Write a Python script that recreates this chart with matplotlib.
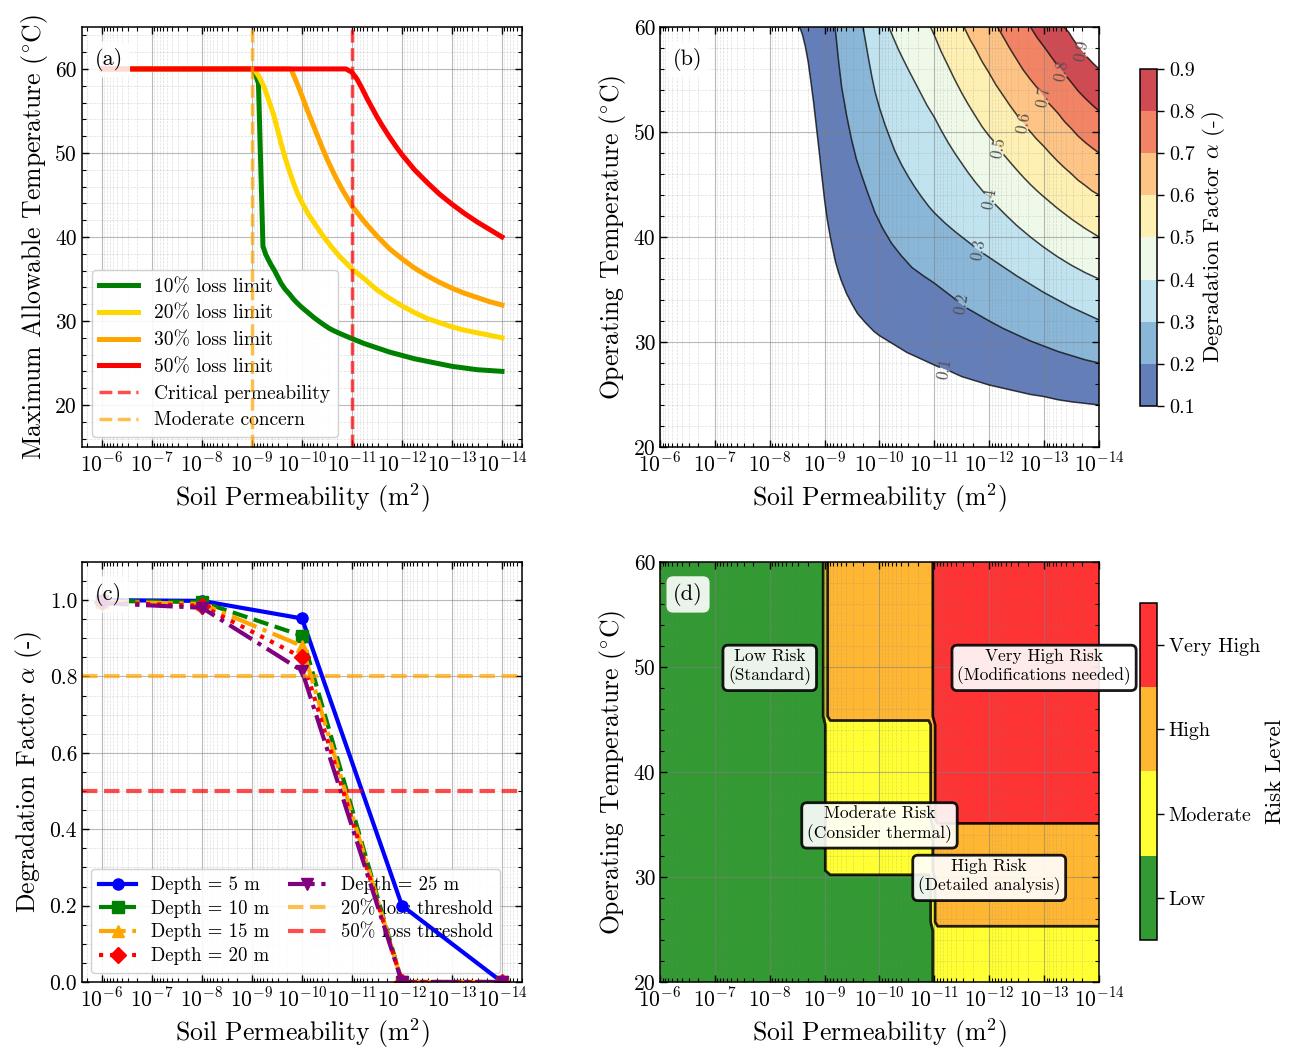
import numpy as np
import matplotlib
matplotlib.use("Agg")
import matplotlib.pyplot as plt
import matplotlib.ticker as mticker
from matplotlib.colors import ListedColormap, BoundaryNorm
from matplotlib.cm import ScalarMappable

# ---------------------------------------------------------------------------
# Data (permeabilities are stored as exponents: k = 10**-exp  [m^2])
# ---------------------------------------------------------------------------
# (a) maximum allowable temperature for each loss limit
green_exp = [6.0, 9.03, 9.13, 9.22, 9.27, 9.31, 9.38, 9.45, 9.52, 9.58, 9.66, 9.75, 9.83, 9.91, 10.0,
             10.12, 10.24, 10.4, 10.55, 10.65, 10.8, 11.0, 11.25, 11.5, 11.75, 12.0, 12.25, 12.5,
             12.75, 13.0, 13.25, 13.5, 13.75, 14.0]
green_temp = [60, 60, 58.3, 38.9, 38.0, 37.5, 36.7, 36.0, 35.2, 34.5, 33.8, 33.2, 32.6, 32.1, 31.6,
              31.0, 30.4, 29.7, 29.1, 28.8, 28.4, 27.9, 27.3, 26.8, 26.3, 25.9, 25.5, 25.2,
              24.9, 24.6, 24.4, 24.2, 24.1, 24.0]
yellow_exp = [6.0, 9.04, 9.14, 9.24, 9.34, 9.44, 9.51, 9.58, 9.66, 9.74, 9.82, 9.91, 10.0, 10.12,
              10.24, 10.4, 10.58, 10.75, 11.0, 11.25, 11.5, 11.75, 12.0, 12.25, 12.5, 12.75, 13.0,
              13.25, 13.5, 13.75, 14.0]
yellow_temp = [60, 60, 59.1, 57.9, 56.2, 54.4, 52.8, 51.2, 49.5, 48.0, 46.6, 45.2, 44.1, 42.8,
               41.7, 40.3, 38.9, 37.7, 36.2, 35.0, 33.7, 32.7, 31.8, 31.0, 30.3, 29.8, 29.3,
               28.9, 28.6, 28.3, 28.0]
orange_exp = [6.0, 9.78, 9.9, 10.0, 10.1, 10.2, 10.3, 10.4, 10.5, 10.65, 10.8, 11.0, 11.25, 11.5,
              11.75, 12.0, 12.25, 12.5, 12.75, 13.0, 13.25, 13.5, 13.75, 14.0]
orange_temp = [60, 60, 58.3, 56.8, 55.2, 53.7, 52.2, 50.7, 49.3, 47.4, 45.7, 43.7, 41.8, 40.1,
               38.6, 37.4, 36.3, 35.4, 34.6, 33.9, 33.3, 32.8, 32.3, 31.9]
red_exp = [6.0, 10.88, 11.0, 11.1, 11.2, 11.3, 11.4, 11.5, 11.6, 11.75, 11.9, 12.0, 12.25, 12.5,
           12.75, 13.0, 13.25, 13.5, 13.75, 14.0]
red_temp = [60, 60, 59.6, 58.8, 57.7, 56.5, 55.4, 54.3, 53.3, 51.9, 50.6, 49.8, 48.0, 46.5,
            45.1, 43.9, 42.8, 41.8, 40.9, 40.0]
critical_k = 1e-11
moderate_k = 1e-9

# (b) degradation factor contour lines (from the top edge to the right edge)
b01_exp = [8.52, 8.56, 8.6, 8.65, 8.7, 8.75, 8.8, 8.85, 8.9, 8.95, 9.0, 9.05, 9.1, 9.15, 9.2, 9.25,
           9.3, 9.4, 9.5, 9.6, 9.75, 9.9, 10.0, 10.25, 10.5, 10.75, 11.0, 11.09, 11.29, 11.5,
           11.75, 12.0, 12.25, 12.5, 12.75, 13.0, 13.25, 13.5, 13.75, 14.0]
b01_temp = [60.0, 59.8, 59.2, 58.1, 56.7, 54.8, 52.8, 50.5, 48.2, 45.8, 43.5, 41.6, 40.1, 38.8,
            37.6, 36.7, 35.9, 34.6, 33.6, 32.7, 31.8, 31.0, 30.6, 29.8, 29.0, 28.4, 27.8, 27.6,
            27.2, 26.7, 26.3, 25.9, 25.6, 25.3, 25.0, 24.8, 24.5, 24.3, 24.15, 24.0]
b02_exp = [9.19, 9.22, 9.26, 9.31, 9.4, 9.49, 9.58, 9.68, 9.8, 9.92, 10.05, 10.22, 10.4, 10.59,
           10.8, 11.0, 11.2, 11.4, 11.6, 11.8, 12.0, 12.25, 12.5, 12.75, 13.0, 13.25, 13.5,
           13.75, 14.0]
b02_temp = [60, 58.5, 56.5, 54.3, 51.6, 49.3, 47.4, 45.8, 44.0, 42.3, 40.9, 39.4, 38.2, 37.1,
            36.3, 35.6, 34.8, 34.0, 33.2, 32.6, 32.0, 31.3, 30.7, 30.1, 29.6, 29.1, 28.7,
            28.3, 28.0]
b03_exp = [9.70, 9.75, 9.80, 9.86, 9.92, 10.0, 10.1, 10.2, 10.28, 10.4, 10.53, 10.65, 10.77, 10.9,
           11.0, 11.2, 11.38, 11.55, 11.70, 11.90, 12.1, 12.3, 12.5, 12.75, 13.0, 13.25, 13.5,
           13.75, 14.0]
b03_temp = [60, 58.5, 57.0, 55.3, 53.8, 52.3, 50.7, 49.3, 48.2, 46.9, 45.7, 44.7, 43.8, 42.9,
            42.3, 41.3, 40.5, 39.8, 39.2, 38.4, 37.7, 37.0, 36.3, 35.5, 34.7, 34.0, 33.3,
            32.7, 32.1]
b04_exp = [10.17, 10.25, 10.35, 10.5, 10.62, 10.75, 10.87, 11.0, 11.12, 11.25, 11.37, 11.5, 11.62,
           11.75, 11.91, 12.11, 12.3, 12.5, 12.75, 13.0, 13.25, 13.5, 13.75, 14.0]
b04_temp = [60, 59.0, 57.8, 56.2, 55.0, 53.7, 52.5, 51.4, 50.2, 49.0, 48.0, 47.0, 46.1,
            45.2, 44.2, 43.1, 42.1, 41.1, 40.0, 39.0, 38.1, 37.3, 36.6, 36.0]
b05_exp = [10.93, 11.0, 11.12, 11.25, 11.37, 11.5, 11.62, 11.75, 11.87, 12.0, 12.07, 12.27, 12.4,
           12.5, 12.62, 12.75, 12.87, 13.0, 13.25, 13.5, 13.75, 14.0]
b05_temp = [60, 59.2, 57.7, 56.3, 55.0, 53.7, 52.6, 51.5, 50.5, 49.6, 49.2, 47.8, 47.0,
            46.4, 45.7, 45.0, 44.4, 43.8, 42.7, 41.7, 40.8, 40.0]
b06_exp = [11.54, 11.65, 11.75, 11.87, 12.0, 12.12, 12.25, 12.38, 12.52, 12.72, 12.85, 13.0, 13.12,
           13.25, 13.37, 13.5, 13.62, 13.75, 13.87, 14.0]
b06_temp = [60, 58.8, 57.9, 56.7, 55.6, 54.5, 53.5, 52.5, 51.5, 50.2, 49.4, 48.6, 47.9,
            47.2, 46.6, 46.0, 45.4, 44.9, 44.4, 44.0]
b07_exp = [12.15, 12.25, 12.37, 12.5, 12.62, 12.75, 12.89, 13.09, 13.25, 13.37, 13.5, 13.62, 13.75,
           13.87, 14.0]
b07_temp = [60, 59.1, 58.0, 56.9, 55.9, 55.0, 54.1, 52.7, 51.8, 51.0, 50.3, 49.6, 49.0, 48.5, 48.0]
b08_exp = [12.75, 12.87, 13.0, 13.11, 13.22, 13.42, 13.5, 13.62, 13.75, 13.87, 14.0]
b08_temp = [60, 59.0, 58.1, 57.3, 56.5, 55.2, 54.7, 53.9, 53.2, 52.6, 52.0]
b09_exp = [13.36, 13.45, 13.52, 13.59, 13.79, 13.9, 14.0]
b09_temp = [60, 59.5, 58.9, 58.4, 57.1, 56.5, 56.0]
b_levels = [0.1, 0.2, 0.3, 0.4, 0.5, 0.6, 0.7, 0.8, 0.9]
label_exp = [11.19, 11.50, 11.80, 12.01, 12.17, 12.62, 12.99, 13.32, 13.69]
label_temp = [27.4, 33.6, 38.8, 43.65, 48.5, 50.85, 53.4, 55.85, 57.75]
label_rot = [80, 80, 80, 80, 80, 80, 80, 80, 80]

# (c) degradation factor vs permeability for several depths
perm_c = [1e-6, 1e-8, 1e-10, 1e-12, 1e-14]
alpha_5m = [1.0, 0.998, 0.952, 0.2, 0.0]
alpha_10m = [0.998, 0.995, 0.907, 0.0, 0.0]
alpha_15m = [0.996, 0.99, 0.880, 0.0, 0.0]
alpha_20m = [0.994, 0.985, 0.850, 0.0, 0.0]
alpha_25m = [0.992, 0.980, 0.815, 0.0, 0.0]
depths = [5, 10, 15, 20, 25]

# (d) risk zones
perm_limits = [1e-9, 1e-11]
temp_limits_mid = [30, 45]     # 1e-11 < k <= 1e-9
temp_limits_tight = [25, 35]   # k <= 1e-11
risk_names = ["Low", "Moderate", "High", "Very High"]
risk_colors = ["green", "yellow", "orange", "red"]

# ---------------------------------------------------------------------------
plt.rcParams.update({
    "font.family": "serif",
    "font.serif": ["cmr10"],
    "mathtext.fontset": "cm",
    "axes.unicode_minus": False,
    "font.size": 15,
    "axes.linewidth": 1.1,
    "xtick.direction": "in", "ytick.direction": "in",
    "xtick.top": True, "ytick.right": True,
    "xtick.major.size": 5, "ytick.major.size": 5,
    "xtick.minor.size": 3, "ytick.minor.size": 3,
    "xtick.major.width": 1.0, "ytick.major.width": 1.0,
    "xtick.minor.width": 0.8, "ytick.minor.width": 0.8,
    "xtick.labelsize": 15.5, "ytick.labelsize": 15.5,
    "axes.labelsize": 18.5,
})

fig = plt.figure(figsize=(13.01, 10.48), dpi=100)
ax_a = fig.add_axes([0.0630, 0.5735, 0.3382, 0.4008])
ax_b = fig.add_axes([0.5073, 0.5735, 0.3374, 0.4008])
ax_c = fig.add_axes([0.0630, 0.0630, 0.3382, 0.4008])
ax_d = fig.add_axes([0.5073, 0.0630, 0.3374, 0.4008])
cax_b = fig.add_axes([0.8762, 0.6126, 0.0131, 0.3216])
cax_d = fig.add_axes([0.8762, 0.1031, 0.0131, 0.3216])


def k_of(exps):
    return 10.0 ** -np.asarray(exps, dtype=float)


def decade_fmt(x, _pos=None):
    return r"$10^{%d}$" % int(round(np.log10(x)))


def style_axis(ax, xlim, ylim, ymajor, yminor_n):
    ax.set_xscale("log")
    ax.set_xlim(*xlim)
    ax.set_ylim(*ylim)
    ax.xaxis.set_major_locator(mticker.LogLocator(base=10, numticks=30))
    ax.xaxis.set_minor_locator(mticker.LogLocator(base=10, subs=np.arange(2, 10), numticks=30))
    ax.xaxis.set_major_formatter(mticker.FuncFormatter(decade_fmt))
    ax.xaxis.set_minor_formatter(mticker.NullFormatter())
    ax.yaxis.set_major_locator(mticker.MultipleLocator(ymajor))
    ax.yaxis.set_minor_locator(mticker.AutoMinorLocator(yminor_n))
    ax.grid(True, which="major", color="gray", alpha=0.55, lw=0.8)
    ax.grid(True, which="minor", color="gray", ls="--", alpha=0.25, lw=0.5)
    ax.set_xlabel(r"Soil Permeability (m$^2$)")


def panel_label(ax, s, alpha=0.85):
    ax.text(0.03, 0.95, s, transform=ax.transAxes, fontsize=16, va="top", ha="left",
            bbox=dict(boxstyle="round,pad=0.3", facecolor="white", edgecolor="none", alpha=alpha),
            zorder=10)


# ---------------------------------------------------------------------------
# (a)
# ---------------------------------------------------------------------------
for e, t, c, lab in [(green_exp, green_temp, "green", "10% loss limit"),
                     (yellow_exp, yellow_temp, "#FFD700", "20% loss limit"),
                     (orange_exp, orange_temp, "#FFA500", "30% loss limit"),
                     (red_exp, red_temp, "red", "50% loss limit")]:
    ax_a.plot(k_of(e), t, color=c, lw=3.6, label=lab)
ax_a.axvline(critical_k, color="red", ls="--", lw=2.5, alpha=0.7, label="Critical permeability")
ax_a.axvline(moderate_k, color="orange", ls="--", lw=2.5, alpha=0.7, label="Moderate concern")
style_axis(ax_a, (10 ** -5.6, 10 ** -14.4), (15, 65), 10, 5)
ax_a.set_ylabel(r"Maximum Allowable Temperature ($^{\circ}$C)")
leg = ax_a.legend(loc="lower left", fontsize=14, framealpha=0.9, labelspacing=0.45)
leg.set_zorder(1.8)
panel_label(ax_a, "(a)")

# ---------------------------------------------------------------------------
# (b)
# ---------------------------------------------------------------------------
curves_exp = [b01_exp, b02_exp, b03_exp, b04_exp, b05_exp, b06_exp, b07_exp, b08_exp, b09_exp]
curves_temp = [b01_temp, b02_temp, b03_temp, b04_temp, b05_temp, b06_temp, b07_temp, b08_temp, b09_temp]
cmap = plt.get_cmap("RdYlBu_r")
band_colors = []
for lo, hi in zip(b_levels[:-1], b_levels[1:]):
    rgb = np.array(cmap(((lo + hi) / 2 - b_levels[0]) / (b_levels[-1] - b_levels[0]))[:3])
    band_colors.append(0.8 * rgb + 0.2)
for i in range(len(b_levels) - 1):
    xs = np.concatenate([k_of(curves_exp[i]), k_of(curves_exp[i + 1])[::-1]])
    ys = np.concatenate([curves_temp[i], curves_temp[i + 1][::-1]])
    ax_b.fill(xs, ys, color=band_colors[i], lw=0, zorder=1)
for e, t, le, lt, rot, lev in zip(curves_exp, curves_temp, label_exp, label_temp, label_rot, b_levels):
    e = np.asarray(e)
    t = np.asarray(t)
    before = e <= le - 0.1 + 1e-6
    after = e >= le + 0.1 - 1e-6
    ax_b.plot(k_of(e[before]), t[before], color="black", lw=1.1, alpha=0.75, zorder=2)
    ax_b.plot(k_of(e[after]), t[after], color="black", lw=1.1, alpha=0.75, zorder=2)
    ax_b.text(10.0 ** -le, lt, f"{lev:.1f}", rotation=rot, ha="center", va="center",
              fontsize=12, color="#505050", zorder=3)
style_axis(ax_b, (1e-6, 1e-14), (20, 60), 10, 5)
ax_b.set_ylabel(r"Operating Temperature ($^{\circ}$C)")
panel_label(ax_b, "(b)")
sm = ScalarMappable(norm=BoundaryNorm(b_levels, len(b_levels) - 1),
                    cmap=ListedColormap(band_colors))
cb_b = fig.colorbar(sm, cax=cax_b, ticks=b_levels)
cb_b.set_label(r"Degradation Factor $\alpha$ (-)", fontsize=16.5)
cb_b.ax.tick_params(labelsize=14.5, direction="out", length=5, right=True)
cb_b.ax.minorticks_off()

# ---------------------------------------------------------------------------
# (c)
# ---------------------------------------------------------------------------
c_series = [alpha_5m, alpha_10m, alpha_15m, alpha_20m, alpha_25m]
c_colors = ["blue", "green", "orange", "red", "purple"]
c_styles = ["-", "--", "-.", ":", "-."]
c_markers = ["o", "s", "^", "D", "v"]
for vals, d, col, ls, mk in zip(c_series, depths, c_colors, c_styles, c_markers):
    ax_c.plot(perm_c, vals, color=col, ls=ls, marker=mk, lw=3, ms=8, label=f"Depth = {d} m")
ax_c.axhline(0.8, color="orange", ls="--", lw=3, alpha=0.7, label="20% loss threshold")
ax_c.axhline(0.5, color="red", ls="--", lw=3, alpha=0.7, label="50% loss threshold")
style_axis(ax_c, (10 ** -5.6, 10 ** -14.4), (0, 1.1), 0.2, 4)
ax_c.set_ylabel(r"Degradation Factor $\alpha$ (-)")
leg = ax_c.legend(loc="lower left", fontsize=13.5, ncol=2, framealpha=0.9,
                  columnspacing=1.0, labelspacing=0.3)
leg.set_zorder(1.8)
panel_label(ax_c, "(c)")

# ---------------------------------------------------------------------------
# (d)
# ---------------------------------------------------------------------------
k_grid = np.logspace(-14, -6, 50)
t_grid = np.linspace(20, 60, 50)
KK, TT = np.meshgrid(k_grid, t_grid)
risk = np.zeros_like(KK)
mid = (KK <= perm_limits[0]) & (KK > perm_limits[1])
tight = KK <= perm_limits[1]
risk[mid & (TT >= temp_limits_mid[0])] = 1
risk[mid & (TT >= temp_limits_mid[1])] = 2
risk[tight] = 1
risk[tight & (TT >= temp_limits_tight[0])] = 2
risk[tight & (TT >= temp_limits_tight[1])] = 3
cf = ax_d.contourf(KK, TT, risk, levels=[-0.5, 0.5, 1.5, 2.5, 3.5], colors=risk_colors, alpha=0.8)
ax_d.contour(KK, TT, risk, levels=[0.5, 1.5, 2.5], colors="black", linewidths=2, alpha=0.85)
style_axis(ax_d, (1e-6, 1e-14), (20, 60), 10, 5)
ax_d.set_ylabel(r"Operating Temperature ($^{\circ}$C)")
panel_label(ax_d, "(d)", alpha=0.9)
box = dict(boxstyle="round,pad=0.3", facecolor="white", alpha=0.9, edgecolor="black", linewidth=2)
ax_d.text(1e-8, 50, "Low Risk\n(Standard)", ha="center", va="center", fontsize=12.5, bbox=box, zorder=5)
ax_d.text(1e-10, 35, "Moderate Risk\n(Consider thermal)", ha="center", va="center", fontsize=12.5, bbox=box, zorder=5)
ax_d.text(1e-12, 30, "High Risk\n(Detailed analysis)", ha="center", va="center", fontsize=12.5, bbox=box, zorder=5)
ax_d.text(1e-13, 50, "Very High Risk\n(Modifications needed)", ha="center", va="center", fontsize=12.5, bbox=box, zorder=5)
cb_d = fig.colorbar(cf, cax=cax_d, ticks=[0, 1, 2, 3])
cb_d.ax.set_yticklabels(risk_names)
cb_d.set_label("Risk Level", fontsize=16.5)
cb_d.ax.tick_params(labelsize=14.5, direction="out", length=5)
cb_d.ax.minorticks_off()

fig.savefig("out.png", dpi=100)
